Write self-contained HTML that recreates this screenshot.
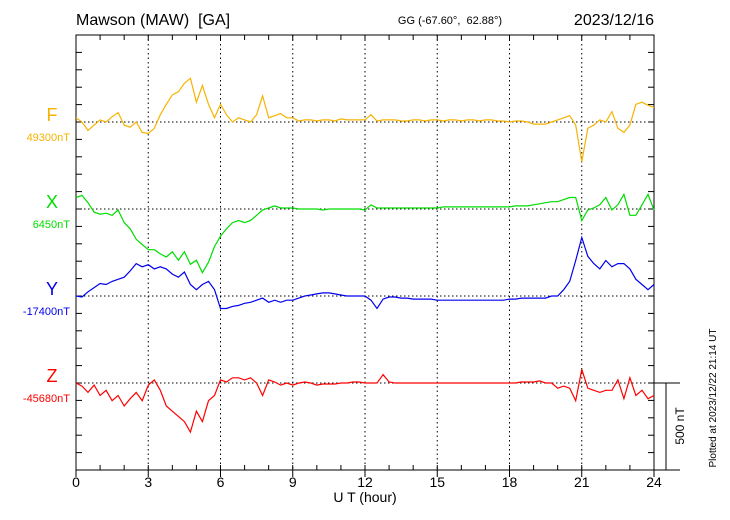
<!DOCTYPE html>
<html><head><meta charset="utf-8"><style>
body{margin:0;background:#fff;}
svg{display:block;font-family:"Liberation Sans",Arial,sans-serif;}
</style></head><body>
<svg id="c" width="730" height="520"></svg>
<script>
const hours=[];for(let i=0;i<=96;i++)hours.push(i/4);
const xTicks=[0,3,6,9,12,15,18,21,24];
const fVals=[24,0,-48,-18,12,0,30,54,-18,-30,0,-60,-66,-36,42,102,156,174,222,252,114,210,102,24,102,42,0,24,12,0,42,150,24,36,48,24,24,6,12,12,6,12,12,6,18,12,12,12,12,42,6,12,12,12,6,6,12,12,6,12,12,6,12,12,6,12,12,6,12,12,6,6,0,6,6,0,-12,-12,-12,0,12,24,36,-18,-228,-36,-18,12,0,60,-36,-60,-18,102,114,96,84];
const xVals=[66,78,36,-18,-30,-24,-36,-6,-78,-114,-174,-204,-234,-234,-258,-276,-246,-294,-246,-318,-294,-366,-306,-216,-156,-114,-78,-66,-78,-66,-36,-6,6,18,6,6,6,0,0,0,0,-6,0,0,0,0,0,0,-6,24,6,6,6,6,6,6,6,6,6,6,6,12,12,12,12,12,12,12,12,12,12,12,12,18,18,18,24,30,36,42,42,54,66,66,-66,-6,6,24,66,-6,24,84,-36,-36,24,84,-6];
const yVals=[0,-6,24,48,72,66,84,96,108,144,186,168,180,156,168,156,126,108,138,66,36,66,84,36,-72,-72,-60,-54,-42,-36,-24,-12,-36,-24,-36,-24,-24,-12,0,6,12,18,18,12,6,0,0,0,0,-24,-72,-18,-6,-6,-12,-12,-18,-18,-18,-18,-24,-24,-24,-24,-24,-24,-24,-24,-24,-24,-24,-24,-18,-18,-12,-12,-12,-12,-12,0,0,36,84,204,336,228,186,156,204,168,186,186,156,96,66,36,66];
const zVals=[0,-18,-54,-12,-72,-42,-102,-72,-132,-90,-54,-102,-12,18,-42,-132,-162,-192,-222,-282,-162,-222,-102,-72,18,6,30,30,18,30,0,-72,18,6,-12,0,-12,0,6,0,-12,-6,-6,-6,0,0,6,6,0,0,0,48,6,0,0,0,0,0,0,0,0,0,0,0,0,0,0,0,0,0,0,0,0,0,6,6,6,12,0,0,-30,-18,-30,-102,78,-30,-42,-54,-42,-42,18,-90,30,-72,-42,-90,-72];

const svg=document.getElementById('c');const NS='http://www.w3.org/2000/svg';
const L=76,R=654,T=35,B=470;
const xs=h=>L+(R-L)*h/24;
const pxPerNT=87/500;
function el(t,a,txt){const e=document.createElementNS(NS,t);for(const k in a)e.setAttribute(k,a[k]);if(txt!==undefined)e.textContent=txt;svg.appendChild(e);return e;}
let e=el('rect',{x:L,y:T,width:R-L,height:B-T,fill:'none',stroke:'#000','stroke-width':1});


for(let h=0;h<=24;h++){const x=xs(h);
 el('line',{x1:x,y1:B,x2:x,y2:B-5,stroke:'#000'});el('line',{x1:x,y1:T,x2:x,y2:T+5,stroke:'#000'});}
xTicks.forEach(h=>{const x=xs(h);
 if(h>0&&h<24){e=el('line',{x1:x,y1:T,x2:x,y2:B,stroke:'#000','stroke-dasharray':'1.5,3'});
 
 }
 e=el('line',{x1:x,y1:B,x2:x,y2:B+7,stroke:'#000'});
 e=el('text',{x:x,y:487,'font-size':14,'text-anchor':'middle'},String(h));
 
 });
for(let y=B;y>=T;y-=17.4){el('line',{x1:L,y1:y,x2:L+6,y2:y,stroke:'#000'});el('line',{x1:R,y1:y,x2:R-6,y2:y,stroke:'#000'});}
const series=[
 {name:'f',vals:fVals,base:122,color:'#f7b300',lab:'F',val:'49300nT'},
 {name:'x',vals:xVals,base:209,color:'#00dd00',lab:'X',val:'6450nT'},
 {name:'y',vals:yVals,base:296,color:'#0000ee',lab:'Y',val:'-17400nT'},
 {name:'z',vals:zVals,base:383,color:'#ff0000',lab:'Z',val:'-45680nT'}];
series.forEach(s=>{
 e=el('line',{x1:L,y1:s.base,x2:R,y2:s.base,stroke:'#000','stroke-dasharray':'1.5,2.5'});
 
 
 const pts=s.vals.map((v,i)=>xs(hours[i]).toFixed(1)+','+(s.base-v*pxPerNT).toFixed(1)).join(' ');
 e=el('polyline',{points:pts,fill:'none',stroke:s.color,'stroke-width':1.2});
 
 
 e=el('text',{x:52,y:s.base-1,'font-size':18,fill:s.color,'text-anchor':'middle'},s.lab);
 
 
 e=el('text',{x:70,y:s.base+19,'font-size':11,fill:s.color,'text-anchor':'end'},s.val);
 
 
});
el('line',{x1:R,y1:383,x2:680,y2:383,stroke:'#000'});
el('line',{x1:R,y1:B,x2:680,y2:B,stroke:'#000'});
e=el('line',{x1:666,y1:383,x2:666,y2:B,stroke:'#000'});


e=el('text',{x:0,y:0,'font-size':12,'text-anchor':'middle',transform:'translate(684,426) rotate(-90)'},'500 nT');


e=el('text',{x:0,y:0,'font-size':10,'text-anchor':'middle',transform:'translate(716,398) rotate(-90)'},'Plotted at 2023/12/22 21:14 UT');


e=el('text',{x:76,y:25,'font-size':16},'Mawson (MAW)\u00a0 [GA]');


e=el('text',{x:450,y:24,'font-size':11,'text-anchor':'middle'},'GG (-67.60°,\u00a0 62.88°)');


e=el('text',{x:654,y:25,'font-size':16,'text-anchor':'end'},'2023/12/16');


e=el('text',{x:365,y:502,'font-size':14,'text-anchor':'middle'},'U T (hour)');


</script>
</body></html>
